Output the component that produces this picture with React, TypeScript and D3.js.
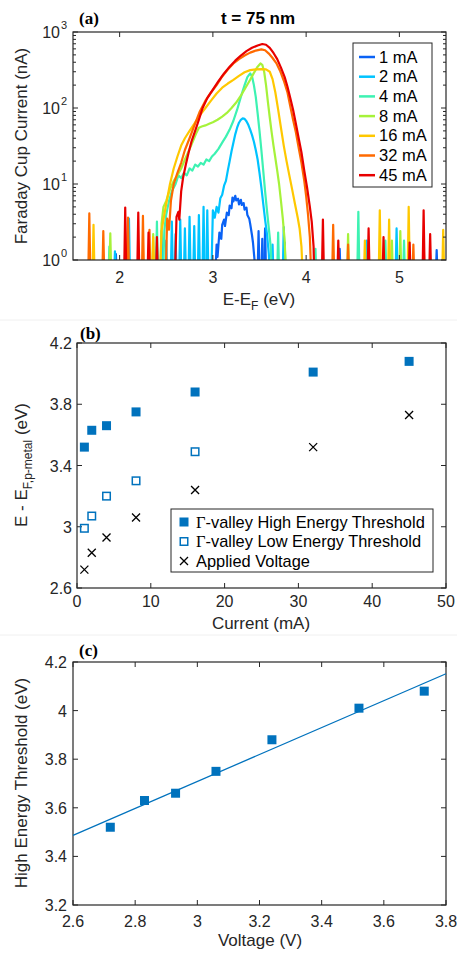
import React from 'react';
import * as d3 from 'd3';

type P = [number, number];

// ---------- Panel (a) data ----------
const legendLabels = ['1 mA', '2 mA', '4 mA', '8 mA', '16 mA', '32 mA', '45 mA'];
const seriesColors = ['#0a62f5', '#00c3ff', '#3df2b2', '#a6f23a', '#ffc800', '#ff6a00', '#e80000'];

const spec1mA: P[] = [[3.02,0.4],[3.04,1.6],[3.05,1.1],[3.07,2.3],[3.09,1.9],[3.10,2.9],[3.12,3.4],[3.13,2.8],[3.15,4.2],[3.17,3.9],[3.18,5.2],[3.20,4.8],[3.21,6.6],[3.22,5.9],[3.24,7.0],[3.25,6.1],[3.27,6.4],[3.28,5.4],[3.30,6.2],[3.31,5.3],[3.33,5.6],[3.34,4.6],[3.36,4.9],[3.37,3.9],[3.39,3.5],[3.40,3.0],[3.42,2.1],[3.43,1.7],[3.45,0.9],[3.46,0.4]];
const spikes1mA: P[] = [[1.96,1.2],[3.49,2.4],[3.53,1.9],[3.56,2.6],[3.77,1.7],[4.36,1.4],[5.40,1.35]];

const spec2mA: P[] = [[2.98,0.4],[3.00,4.5],[3.02,3.6],[3.04,5.0],[3.06,4.2],[3.08,6.5],[3.10,7.2],[3.12,9.5],[3.14,11],[3.16,15],[3.18,20],[3.20,27],[3.22,35],[3.24,45],[3.26,55],[3.28,64],[3.30,70],[3.32,73],[3.34,72],[3.36,67],[3.38,60],[3.40,52],[3.42,44],[3.44,36],[3.46,28],[3.48,21],[3.50,14],[3.52,9],[3.54,5.5],[3.56,3.4],[3.58,2.2],[3.60,1.2],[3.62,0.4]];
const spikes2mA: P[] = [[1.95,1.3],[2.10,3.5],[2.40,1.5],[2.45,2.4],[2.50,1.8],[2.56,3.2],[2.60,2.2],[2.65,3.4],[2.70,2.6],[2.75,3.7],[2.80,2.8],[2.85,3.9],[2.90,5.0],[2.94,4.5],[3.64,1.6],[3.76,2.7],[4.65,1.8],[4.97,2.6]];

const spec4mA: P[] = [[2.46,0.4],[2.48,2.5],[2.50,4],[2.53,6],[2.56,8],[2.60,10],[2.63,13],[2.66,12],[2.69,14],[2.72,13],[2.75,16],[2.78,15],[2.81,18],[2.84,17],[2.87,19],[2.90,18],[2.93,21],[2.96,20],[2.99,23],[3.02,25],[3.06,29],[3.10,35],[3.14,42],[3.18,52],[3.22,68],[3.26,95],[3.30,140],[3.34,200],[3.37,255],[3.40,285],[3.42,260],[3.44,200],[3.46,140],[3.48,85],[3.50,50],[3.52,28],[3.54,15],[3.56,8],[3.58,4.5],[3.60,2.6],[3.62,1.5],[3.64,0.4]];
const spikes4mA: P[] = [[1.89,1.5],[2.40,3.2],[3.70,2.3],[4.10,1.4],[4.56,4.3],[4.85,1.8],[5.05,1.8]];

const spec8mA: P[] = [[2.43,0.4],[2.45,3],[2.47,5],[2.50,6],[2.54,8.5],[2.58,11],[2.62,13],[2.66,16],[2.70,21],[2.74,27],[2.78,35],[2.82,46],[2.85,55],[2.88,57],[2.92,59],[2.96,62],[3.00,65],[3.05,70],[3.10,77],[3.15,86],[3.20,100],[3.25,118],[3.30,145],[3.35,185],[3.40,235],[3.44,290],[3.48,350],[3.51,385],[3.53,370],[3.55,300],[3.57,200],[3.59,120],[3.61,75],[3.63,48],[3.65,32],[3.67,22],[3.69,15],[3.71,10],[3.73,6],[3.75,3.5],[3.77,1.8],[3.79,0.4]];
const spikes8mA: P[] = [[1.90,2.25],[2.36,2.2],[4.45,2.2],[4.92,1.8],[5.01,2.4]];

const spec16mA: P[] = [[2.43,0.4],[2.45,2.4],[2.47,3.4],[2.50,5.5],[2.54,10],[2.58,16],[2.62,23],[2.66,32],[2.70,40],[2.75,50],[2.80,62],[2.86,80],[2.92,100],[2.98,125],[3.04,155],[3.10,185],[3.16,210],[3.22,235],[3.28,265],[3.34,295],[3.40,315],[3.46,322],[3.52,325],[3.57,322],[3.61,300],[3.64,240],[3.67,160],[3.70,95],[3.73,55],[3.76,32],[3.79,20],[3.82,13],[3.85,8.5],[3.88,5.5],[3.91,3.6],[3.93,2.6],[3.95,1.5],[3.97,0.4]];
const spikes16mA: P[] = [[1.72,2.9],[2.36,2.0],[4.63,1.8],[4.79,4.5],[4.89,3.4],[5.10,5.0],[5.26,1.8],[5.47,2.5]];

const spec32mA: P[] = [[2.49,0.4],[2.51,3.5],[2.53,2.5],[2.55,6],[2.58,10],[2.62,14],[2.66,19],[2.70,28],[2.75,40],[2.80,58],[2.86,90],[2.92,125],[2.98,160],[3.04,200],[3.10,260],[3.16,320],[3.22,385],[3.28,440],[3.34,490],[3.40,535],[3.46,570],[3.52,590],[3.56,575],[3.60,520],[3.64,455],[3.68,390],[3.72,310],[3.76,230],[3.80,160],[3.83,105],[3.86,70],[3.89,48],[3.92,30],[3.95,19],[3.98,11],[4.00,7],[4.02,4],[4.04,2],[4.06,0.4]];
const spikes32mA: P[] = [[1.675,4.1],[1.825,2.4],[2.09,3.6],[2.25,3.8],[2.32,2.5],[4.29,2.9],[4.45,1.6],[5.15,1.6]];

const spec45mA: P[] = [[2.59,0.4],[2.61,3.7],[2.63,4.3],[2.64,3.4],[2.66,8],[2.68,12],[2.71,18],[2.74,26],[2.77,36],[2.81,50],[2.85,70],[2.89,100],[2.94,135],[3.00,175],[3.06,225],[3.12,285],[3.18,350],[3.24,420],[3.30,490],[3.36,560],[3.42,620],[3.48,665],[3.53,695],[3.57,680],[3.61,620],[3.65,530],[3.69,440],[3.73,340],[3.77,255],[3.80,190],[3.83,135],[3.86,95],[3.89,62],[3.92,40],[3.95,26],[3.98,15],[4.01,9],[4.04,5],[4.06,3.2],[4.08,1.5],[4.09,0.4]];
const spikes45mA: P[] = [[2.06,4.9],[2.20,4.2],[2.31,2.3],[2.40,2.0],[4.18,3.4],[4.345,1.8],[4.67,2.6],[4.83,2.0],[5.11,1.7],[5.26,4.5],[5.33,2.2]];

const spectra = [spec1mA, spec2mA, spec4mA, spec8mA, spec16mA, spec32mA, spec45mA];
const spikeSets = [spikes1mA, spikes2mA, spikes4mA, spikes8mA, spikes16mA, spikes32mA, spikes45mA];

const xTicksA = [2, 3, 4, 5];
const yDecadesA = [0, 1, 2, 3];

// ---------- Panel (b) data ----------
const currentsMA = [1, 2, 4, 8, 16, 32, 45];
const highThreshold = [3.52, 3.63, 3.66, 3.75, 3.88, 4.01, 4.08];
const lowCurrentsMA = [1, 2, 4, 8, 16];
const lowThreshold = [2.99, 3.07, 3.20, 3.30, 3.49];
const appliedVoltage = [2.72, 2.83, 2.93, 3.06, 3.24, 3.52, 3.73];
const xTicksB = [0, 10, 20, 30, 40, 50];
const yTicksB = [2.6, 3, 3.4, 3.8, 4.2];
const legendB = ['-valley High Energy Threshold', '-valley Low Energy Threshold', 'Applied Voltage'];

// ---------- Panel (c) data ----------
const xTicksC = [2.6, 2.8, 3, 3.2, 3.4, 3.6, 3.8];
const yTicksC = [3.2, 3.4, 3.6, 3.8, 4, 4.2];

const FONT = "'Liberation Sans', Arial, Helvetica, sans-serif";
const SERIF = "'Liberation Serif', 'Times New Roman', serif";
const AX = '#262626';
const BLUE = '#0072BD';
const TICK_FS = 16;
const LABEL_FS = 17;

function fmt(v: number) {
  return String(Math.round(v * 10) / 10);
}

export default function App() {
  // Panel A
  const xA = d3.scaleLinear().domain([1.5, 5.5]).range([73, 446]);
  const yA = d3.scaleLog().domain([1, 1000]).range([260, 32]);
  const lineA = d3.line<P>().x(d => xA(d[0])).y(d => yA(Math.max(d[1], 0.05)));
  const floorVal = 0.4;
  const dw = 0.014;

  // Panel B
  const xB = d3.scaleLinear().domain([0, 50]).range([77, 446]);
  const yB = d3.scaleLinear().domain([2.6, 4.2]).range([588, 343]);

  // Panel C
  const xC = d3.scaleLinear().domain([2.6, 3.8]).range([73, 446]);
  const yC = d3.scaleLinear().domain([3.2, 4.2]).range([905, 662]);
  const n = appliedVoltage.length;
  const mx = d3.mean(appliedVoltage)!;
  const my = d3.mean(highThreshold)!;
  let sxy = 0, sxx = 0;
  for (let i = 0; i < n; i++) {
    sxy += (appliedVoltage[i] - mx) * (highThreshold[i] - my);
    sxx += (appliedVoltage[i] - mx) ** 2;
  }
  const slope = sxy / sxx;
  const icpt = my - slope * mx;
  const fitDomain = xC.domain();

  const tl = 5;
  const sq = 9;

  return (
    <svg width={457} height={957} style={{ position: 'absolute', left: 0, top: 0, background: '#fff' }} fontFamily={FONT}>
      <defs>
        <clipPath id="clipA"><rect x={73} y={32} width={373} height={228} /></clipPath>
      </defs>
      <rect x={0} y={0} width={457} height={957} fill="#fff" />
      <line x1={0} x2={457} y1={320} y2={320} stroke="#f0f0f0" />
      <line x1={0} x2={457} y1={635} y2={635} stroke="#f0f0f0" />

      {/* ---------------- Panel (a) ---------------- */}
      <g clipPath="url(#clipA)">
        {spectra.map((s, i) => (
          <g key={i} stroke={seriesColors[i]} strokeWidth={2.2} fill="none" strokeLinejoin="round">
            <path d={lineA(s) || ''} />
            {spikeSets[i].map((sp, j) => (
              <path key={j} d={lineA([[sp[0] - dw, floorVal], [sp[0], sp[1]], [sp[0] + dw, floorVal]]) || ''} />
            ))}
          </g>
        ))}
      </g>
      <rect x={73} y={32} width={373} height={228} fill="none" stroke={AX} strokeWidth={1.2} />
      {xTicksA.map(t => (
        <g key={t}>
          <line x1={xA(t)} x2={xA(t)} y1={260} y2={260 - tl} stroke={AX} />
          <line x1={xA(t)} x2={xA(t)} y1={32} y2={32 + tl} stroke={AX} />
          <text x={xA(t)} y={283} textAnchor="middle" fontSize={TICK_FS} fill={AX}>{t}</text>
        </g>
      ))}
      {yDecadesA.map(d => (
        <g key={d}>
          <line x1={73} x2={73 + tl} y1={yA(10 ** d)} y2={yA(10 ** d)} stroke={AX} />
          <line x1={446} x2={446 - tl} y1={yA(10 ** d)} y2={yA(10 ** d)} stroke={AX} />
          <text x={60} y={yA(10 ** d) + 6} textAnchor="end" fontSize={TICK_FS} fill={AX}>10</text>
          <text x={61} y={yA(10 ** d) - 3} textAnchor="start" fontSize={11} fill={AX}>{d}</text>
          {d < 3 && [2, 3, 4, 5, 6, 7, 8, 9].map(m => (
            <g key={m}>
              <line x1={73} x2={73 + 3} y1={yA(m * 10 ** d)} y2={yA(m * 10 ** d)} stroke={AX} />
              <line x1={446} x2={446 - 3} y1={yA(m * 10 ** d)} y2={yA(m * 10 ** d)} stroke={AX} />
            </g>
          ))}
        </g>
      ))}
      <text x={259} y={305} textAnchor="middle" fontSize={LABEL_FS} fill={AX}>
        E-E<tspan dy={5} fontSize={12}>F</tspan><tspan dy={-5}> (eV)</tspan>
      </text>
      <text transform="translate(27,146) rotate(-90)" textAnchor="middle" fontSize={LABEL_FS} fill={AX}>Faraday Cup Current (nA)</text>
      <text x={258} y={24} textAnchor="middle" fontSize={17} fontWeight="bold" fill="#000">t = 75 nm</text>
      <text x={79} y={24} fontFamily={SERIF} fontSize={17} fontWeight="bold" fill="#000">(a)</text>

      {/* legend (a) */}
      <rect x={353} y={43} width={79} height={144} fill="#fff" stroke={AX} strokeWidth={1} />
      {legendLabels.map((lab, i) => {
        const yy = 57 + i * 19.7;
        return (
          <g key={lab}>
            <line x1={359} x2={375} y1={yy} y2={yy} stroke={seriesColors[i]} strokeWidth={2.5} />
            <text x={379} y={yy + 5.5} fontSize={16.5} fill="#000">{lab}</text>
          </g>
        );
      })}

      {/* ---------------- Panel (b) ---------------- */}
      <rect x={77} y={343} width={369} height={245} fill="none" stroke={AX} strokeWidth={1.2} />
      {xTicksB.map(t => (
        <g key={t}>
          <line x1={xB(t)} x2={xB(t)} y1={588} y2={588 - tl} stroke={AX} />
          <line x1={xB(t)} x2={xB(t)} y1={343} y2={343 + tl} stroke={AX} />
          <text x={xB(t)} y={607} textAnchor="middle" fontSize={TICK_FS} fill={AX}>{t}</text>
        </g>
      ))}
      {yTicksB.map(t => (
        <g key={t}>
          <line x1={77} x2={77 + tl} y1={yB(t)} y2={yB(t)} stroke={AX} />
          <line x1={446} x2={446 - tl} y1={yB(t)} y2={yB(t)} stroke={AX} />
          <text x={72} y={yB(t) + 6} textAnchor="end" fontSize={TICK_FS} fill={AX}>{fmt(t)}</text>
        </g>
      ))}
      {currentsMA.map((c, i) => (
        <rect key={'h' + i} x={xB(c) - sq / 2} y={yB(highThreshold[i]) - sq / 2} width={sq} height={sq} fill={BLUE} />
      ))}
      {lowCurrentsMA.map((c, i) => (
        <rect key={'l' + i} x={xB(c) - sq / 2 + 0.75} y={yB(lowThreshold[i]) - sq / 2 + 0.75} width={sq - 1.5} height={sq - 1.5} fill="none" stroke={BLUE} strokeWidth={1.5} />
      ))}
      {currentsMA.map((c, i) => {
        const cx = xB(c), cy = yB(appliedVoltage[i]);
        return (
          <path key={'v' + i} d={`M${cx - 4},${cy - 4}L${cx + 4},${cy + 4}M${cx - 4},${cy + 4}L${cx + 4},${cy - 4}`} stroke="#000" strokeWidth={1.3} />
        );
      })}
      <rect x={171} y={509} width={262} height={63} fill="#fff" stroke={AX} strokeWidth={1} />
      {legendB.map((lab, i) => {
        const yy = 522 + i * 19.5;
        const mx0 = 184;
        return (
          <g key={lab}>
            {i === 0 && <rect x={mx0 - sq / 2} y={yy - sq / 2} width={sq} height={sq} fill={BLUE} />}
            {i === 1 && <rect x={mx0 - sq / 2 + 0.75} y={yy - sq / 2 + 0.75} width={sq - 1.5} height={sq - 1.5} fill="none" stroke={BLUE} strokeWidth={1.5} />}
            {i === 2 && <path d={`M${mx0 - 4},${yy - 4}L${mx0 + 4},${yy + 4}M${mx0 - 4},${yy + 4}L${mx0 + 4},${yy - 4}`} stroke="#000" strokeWidth={1.3} />}
            <text x={196} y={yy + 5.5} fontSize={16.4} fill="#000">
              {i < 2 && <tspan fontFamily={SERIF}>Γ</tspan>}{lab}
            </text>
          </g>
        );
      })}
      <text x={261} y={629} textAnchor="middle" fontSize={LABEL_FS} fill={AX}>Current (mA)</text>
      <text transform="translate(27,465) rotate(-90)" textAnchor="middle" fontSize={LABEL_FS} fill={AX}>
        E - E<tspan dy={5} fontSize={12}>F,p-metal</tspan><tspan dy={-5}> (eV)</tspan>
      </text>
      <text x={80} y={339} fontFamily={SERIF} fontSize={17} fontWeight="bold" fill="#000">(b)</text>

      {/* ---------------- Panel (c) ---------------- */}
      <rect x={73} y={662} width={373} height={243} fill="none" stroke={AX} strokeWidth={1.2} />
      {xTicksC.map(t => (
        <g key={t}>
          <line x1={xC(t)} x2={xC(t)} y1={905} y2={905 - tl} stroke={AX} />
          <line x1={xC(t)} x2={xC(t)} y1={662} y2={662 + tl} stroke={AX} />
          <text x={xC(t)} y={927} textAnchor="middle" fontSize={TICK_FS} fill={AX}>{fmt(t)}</text>
        </g>
      ))}
      {yTicksC.map(t => (
        <g key={t}>
          <line x1={73} x2={73 + tl} y1={yC(t)} y2={yC(t)} stroke={AX} />
          <line x1={446} x2={446 - tl} y1={yC(t)} y2={yC(t)} stroke={AX} />
          <text x={67} y={yC(t) + 6} textAnchor="end" fontSize={TICK_FS} fill={AX}>{fmt(t)}</text>
        </g>
      ))}
      <line x1={xC(fitDomain[0])} y1={yC(icpt + slope * fitDomain[0])} x2={xC(fitDomain[1])} y2={yC(icpt + slope * fitDomain[1])} stroke={BLUE} strokeWidth={1.3} />
      {appliedVoltage.map((v, i) => (
        <rect key={'c' + i} x={xC(v) - sq / 2} y={yC(highThreshold[i]) - sq / 2} width={sq} height={sq} fill={BLUE} />
      ))}
      <text x={260} y={946} textAnchor="middle" fontSize={LABEL_FS} fill={AX}>Voltage (V)</text>
      <text transform="translate(27,783) rotate(-90)" textAnchor="middle" fontSize={LABEL_FS} fill={AX}>High Energy Threshold (eV)</text>
      <text x={79} y={656} fontFamily={SERIF} fontSize={17} fontWeight="bold" fill="#000">(c)</text>
    </svg>
  );
}
